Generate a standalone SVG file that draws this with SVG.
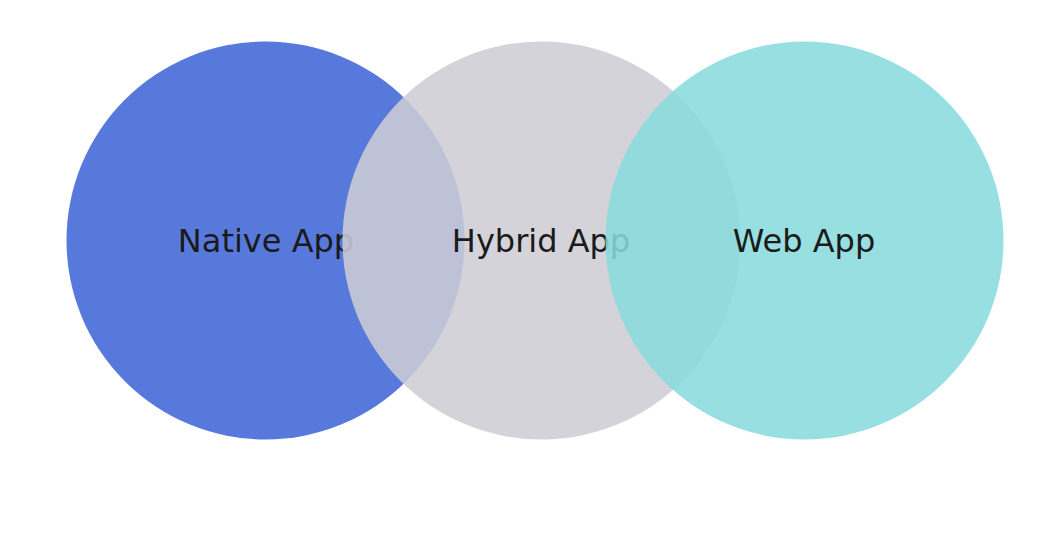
<svg xmlns="http://www.w3.org/2000/svg" width="1052" height="534" viewBox="0 0 1052 534">
<style>
.c{fill-opacity:0.87}
.t{font-family:"DejaVu Sans",sans-serif;font-size:32px;fill:#1a1a1a;text-anchor:middle}
</style>
<rect width="1052" height="534" fill="#ffffff"/>
<g id="native">
<circle cx="265.5" cy="240.5" r="199" fill="#5779dc"/>
<text class="t" x="266" y="252">Native App</text>
</g>
<g id="hybrid">
<circle class="c" cx="541.5" cy="240.5" r="199" fill="#cecdd4"/>
<text class="t" x="541" y="252">Hybrid App</text>
</g>
<g id="web">
<circle class="c" cx="804.5" cy="240.5" r="199" fill="#88dadd"/>
<text class="t" x="804" y="252">Web App</text>
</g>
<g id="connectors"/>
</svg>
